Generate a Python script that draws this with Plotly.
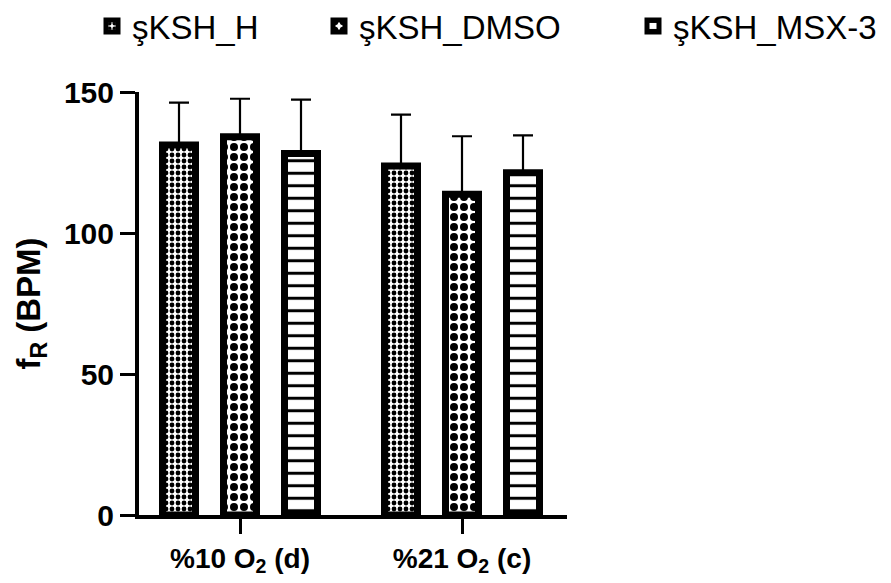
import plotly.graph_objects as go

# Respiratory frequency by oxygen condition and treatment group
conditions = ["%10 O<sub>2</sub> (d)", "%21 O<sub>2</sub> (c)"]
groups = ["şKSH_H", "şKSH_DMSO", "şKSH_MSX-3"]

mean_h = [131.2, 123.8]
mean_dmso = [134.1, 113.7]
mean_msx = [128.2, 121.4]

err_h = [15.0, 18.2]
err_dmso = [13.5, 20.6]
err_msx = [19.1, 13.2]

y_ticks = [0, 50, 100, 150]

W, H = 891, 583
L, R, T, B = 139, 324, 92, 68
PW, PH = W - L - R, H - T - B

FONT = "Liberation Sans, Arial, Helvetica, sans-serif"

series = [
    (groups[0], mean_h, err_h, dict(shape=".", size=6, solidity=0.5), "legend"),
    (groups[1], mean_dmso, err_dmso, dict(shape=".", size=10, solidity=0.5), "legend2"),
    (groups[2], mean_msx, err_msx, dict(shape="-", size=12.5, solidity=0.24), "legend3"),
]

fig = go.Figure()
for name, vals, errs, pat, leg in series:
    fig.add_trace(go.Bar(
        name=name,
        x=conditions,
        y=vals,
        legend=leg,
        marker=dict(
            color="white",
            line=dict(color="black", width=7),
            pattern=dict(fgcolor="black", bgcolor="white", fillmode="replace", **pat),
        ),
        error_y=dict(
            type="data",
            array=errs,
            arrayminus=[0] * len(errs),
            symmetric=False,
            color="black",
            thickness=2.2,
            width=10,
        ),
    ))

# legends are placed in container coordinates so they do not push the margins
legend_style = dict(
    orientation="h",
    xref="container",
    yref="container",
    yanchor="middle",
    xanchor="left",
    y=1 - 26 / H,
    font=dict(family=FONT, size=33, color="black"),
    bgcolor="rgba(0,0,0,0)",
    borderwidth=0,
    itemclick=False,
)

fig.update_layout(
    width=W,
    height=H,
    margin=dict(l=L, r=R, t=T, b=B, pad=0, autoexpand=False),
    paper_bgcolor="white",
    plot_bgcolor="white",
    barmode="group",
    bargap=0.1757,
    bargroupgap=0.459,
    showlegend=True,
    legend=dict(x=(132 - 40) / W, **legend_style),
    legend2=dict(x=(359 - 40) / W, **legend_style),
    legend3=dict(x=(673 - 40) / W, **legend_style),
    font=dict(family=FONT, color="black"),
    xaxis=dict(
        range=[(L - 240) / 222, (L + PW - 240) / 222],
        showline=True,
        linecolor="black",
        linewidth=4,
        ticks="outside",
        ticklen=15,
        tickwidth=3,
        tickcolor="black",
        tickfont=dict(family=FONT, size=28, color="black", weight="bold"),
        showgrid=False,
        zeroline=False,
        fixedrange=True,
        automargin=False,
    ),
    yaxis=dict(
        range=[0, 150],
        tickvals=y_ticks,
        showline=True,
        linecolor="black",
        linewidth=4,
        ticks="outside",
        ticklen=15,
        tickwidth=3,
        tickcolor="black",
        tickfont=dict(family=FONT, size=30, color="black", weight="bold"),
        showgrid=False,
        zeroline=False,
        fixedrange=True,
        automargin=False,
        title=dict(
            text="f<sub>R</sub> (BPM)",
            font=dict(family=FONT, size=33, color="black", weight="bold"),
            standoff=14,
        ),
    ),
)

fig.write_html("out.html")
